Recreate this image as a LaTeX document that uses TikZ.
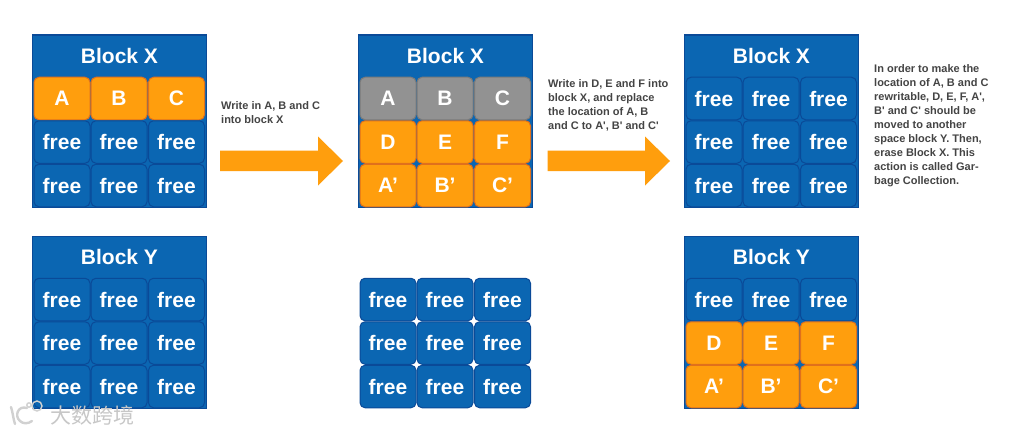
\documentclass[tikz,border=0pt]{standalone}
\usepackage{fontspec}
\setmainfont{Liberation Sans}
\newfontfamily\capfont{Liberation Sans}
\newfontfamily\cjkwm{Noto Sans CJK SC}
\definecolor{blockblue}{HTML}{0B66B2}
\definecolor{edgeblue}{HTML}{0A4A98}
\definecolor{cellorange}{HTML}{FF9E0D}
\definecolor{edgeorange}{HTML}{E0701C}
\definecolor{cellgray}{HTML}{929292}
\definecolor{edgegray}{HTML}{7A7A7A}
\definecolor{capgray}{HTML}{444444}
\tikzset{
  x=1pt,y=-1pt,
  blockbg/.style={fill=blockblue,draw=edgeblue,line width=1.2pt,rectangle,minimum width=174pt,minimum height=172.5pt,anchor=north west,inner sep=0},
  titletext/.style={text=white,font=\fontsize{21}{22}\selectfont\bfseries,anchor=center,inner sep=0},
  cellbase/.style={rectangle,rounded corners=5pt,line width=1pt,minimum width=56pt,minimum height=42.5pt,anchor=center,inner sep=0,text=white,font=\fontsize{21}{22}\selectfont\bfseries},
  freecell/.style={cellbase,fill=blockblue,draw=edgeblue},
  usedcell/.style={cellbase,fill=cellorange,draw=edgeorange},
  oldcell/.style={cellbase,fill=cellgray,draw=edgegray},
  bigarrow/.style={fill=cellorange,draw=none},
  captext/.style={text=capgray,font=\capfont\fontsize{11}{14}\selectfont\bfseries,align=left,anchor=north west,inner sep=0},
  wmark/.style={text=black!22,font=\cjkwm\fontsize{21}{22}\selectfont,anchor=west,inner sep=0},
  wmline/.style={draw=black!18,line width=2.4pt,line cap=round}
}
% #1 prefix, #2 left x, #3 top y of first row, #4 style, #5-7 labels
\newcommand{\cellrow}[7]{%
  \node[#4] (#1a) at (#2+30,#3+21.5) {#5};
  \node[#4] (#1b) at (#2+87,#3+21.5) {#6};
  \node[#4] (#1c) at (#2+144.5,#3+21.5) {#7};
}
\begin{document}
\begin{tikzpicture}
\useasboundingbox (0,0) rectangle (1024,433);
\fill[white] (0,0) rectangle (1024,433);

% Block X, state 1
\node[blockbg] (bx1) at (32,34.5) {};
\node[titletext] (tx1) at (119.5,56) {Block X};
\cellrow{xa}{32}{77}{usedcell}{A}{B}{C}
\cellrow{xb}{32}{120.5}{freecell}{free}{free}{free}
\cellrow{xc}{32}{164}{freecell}{free}{free}{free}

% Block X, state 2
\node[blockbg] (bx2) at (358,34.5) {};
\node[titletext] (tx2) at (445.5,56) {Block X};
\cellrow{ya}{358}{77}{oldcell}{A}{B}{C}
\cellrow{yb}{358}{120.5}{usedcell}{D}{E}{F}
\cellrow{yc}{358}{164}{usedcell}{A’}{B’}{C’}

% Block X, state 3
\node[blockbg] (bx3) at (684,34.5) {};
\node[titletext] (tx3) at (771.5,56) {Block X};
\cellrow{za}{684}{77}{freecell}{free}{free}{free}
\cellrow{zb}{684}{120.5}{freecell}{free}{free}{free}
\cellrow{zc}{684}{164}{freecell}{free}{free}{free}

% Block Y, state 1
\node[blockbg] (by1) at (32,235.5) {};
\node[titletext] (ty1) at (119.5,257) {Block Y};
\cellrow{pa}{32}{278}{freecell}{free}{free}{free}
\cellrow{pb}{32}{321.5}{freecell}{free}{free}{free}
\cellrow{pc}{32}{365}{freecell}{free}{free}{free}

% Free cells without a block frame
\cellrow{qa}{358}{278}{freecell}{free}{free}{free}
\cellrow{qb}{358}{321.5}{freecell}{free}{free}{free}
\cellrow{qc}{358}{365}{freecell}{free}{free}{free}

% Block Y, state 3
\node[blockbg] (by3) at (684,235.5) {};
\node[titletext] (ty3) at (771.5,257) {Block Y};
\cellrow{ra}{684}{278}{freecell}{free}{free}{free}
\cellrow{rb}{684}{321.5}{usedcell}{D}{E}{F}
\cellrow{rc}{684}{365}{usedcell}{A’}{B’}{C’}

% Arrows
\fill[bigarrow] (220,150.5) -- (318,150.5) -- (318,136.5) -- (343,161) -- (318,185.5) -- (318,171) -- (220,171) -- cycle;
\fill[bigarrow] (547.5,150.5) -- (645,150.5) -- (645,136.5) -- (670,161) -- (645,185.5) -- (645,171) -- (547.5,171) -- cycle;

% Captions
\node[captext] (c1) at (221,101) {Write in A, B and C\\into block X};
\node[captext] (c2) at (548,79) {Write in D, E and F into\\block X, and replace\\the location of A, B\\and C to A', B' and C'};
\node[captext] (c3) at (874,64.5) {In order to make the\\location of A, B and C\\rewritable, D, E, F, A',\\B' and C' should be\\moved to another\\space block Y. Then,\\erase Block X. This\\action is called Gar-\\bage Collection.};

% Watermark
\node[wmark] (wm) at (50,415) {大数跨境};
\draw[wmline] (11,407) .. controls (13,413) and (13,418) .. (15,424);
\draw[wmline] (27,408) .. controls (18,405) and (14,416) .. (20,421) .. controls (23,424) and (28,424) .. (32,421);
\draw[wmline,line width=1.4pt] (37,406) circle (5);
\draw[wmline,line width=1.4pt] (29,405) circle (2.2);
\end{tikzpicture}
\end{document}
